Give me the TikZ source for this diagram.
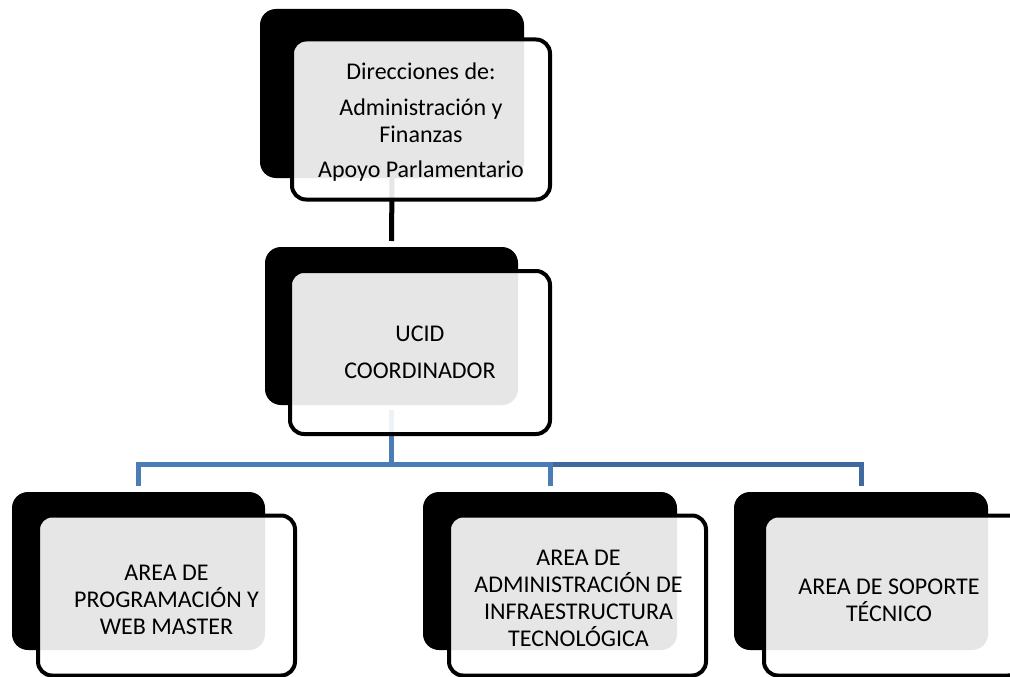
\documentclass[tikz,border=0pt]{standalone}
\usepackage{fontspec}
\setmainfont{Carlito}
\definecolor{bluelight}{HTML}{4A7CB8}
\definecolor{bluedark}{HTML}{3F6A9E}
\tikzset{
  backbox/.style={fill=black, draw=none, rounded corners=16pt, inner sep=0pt, outer sep=0pt},
  frontbox/.style={draw=black, line width=4pt, fill=white, fill opacity=0.9, rounded corners=14pt, inner sep=0pt, outer sep=0pt},
  txt/.style={align=center, font=\fontsize{24}{27}\selectfont, inner sep=0pt, text=black},
  blackconn/.style={draw=black, line width=5pt, shorten >=6pt},
  lightconn/.style={draw=bluelight, line width=5pt, shorten <=5pt, shorten >=6pt},
  darkconn/.style={draw=bluedark, line width=5pt, shorten <=5pt, shorten >=6pt}
}
\begin{document}
\begin{tikzpicture}[x=1pt,y=-1pt]
\useasboundingbox (0,0) rectangle (1010,677);
\clip (0,0) rectangle (1010,677);
\fill[white] (0,0) rectangle (1010,677);
% back boxes
\node[backbox, minimum width=264pt, minimum height=169pt] (topb) at (392,93.5) {};
\node[backbox, minimum width=253pt, minimum height=158pt] (ucidb) at (391.5,326) {};
\node[backbox, minimum width=253pt, minimum height=158pt] (c1b) at (138.5,571) {};
\node[backbox, minimum width=254pt, minimum height=158pt] (c2b) at (550,571) {};
\node[backbox, minimum width=254pt, minimum height=158pt] (c3b) at (861,571) {};
% connectors
\coordinate (bus) at (391.5,464);
\draw[blackconn] (topb.south) -- (ucidb.north);
\draw[darkconn] (ucidb.south) -- (bus) -| (c3b.north);
\draw[lightconn] (ucidb.south) -- (bus) -| (c1b.north);
\draw[lightconn] (ucidb.south) -- (bus) -| (c2b.north);
% front boxes
\node[frontbox, minimum width=258pt, minimum height=160pt] (topf) at (421,119.5) {};
\node[frontbox, minimum width=260pt, minimum height=163pt] (ucidf) at (420,352.5) {};
\node[frontbox, minimum width=257pt, minimum height=160pt] (c1f) at (166.5,595.5) {};
\node[frontbox, minimum width=257pt, minimum height=160pt] (c2f) at (577.5,595.5) {};
\node[frontbox, minimum width=258pt, minimum height=160pt] (c3f) at (893,595.5) {};
% texts
\node[txt] (topt) at (421,122.5) {Direcciones de:\\[9pt]Administración y\\Finanzas\\[8pt]Apoyo Parlamentario};
\node[txt] (ucidt) at (420,352) {UCID\\[10pt]COORDINADOR};
\node[txt] (c1t) at (166.5,599.5) {AREA DE\\PROGRAMACIÓN Y\\WEB MASTER};
\node[txt] (c2t) at (578.5,598.5) {AREA DE\\ADMINISTRACIÓN DE\\INFRAESTRUCTURA\\TECNOLÓGICA};
\node[txt] (c3t) at (889,600) {AREA DE SOPORTE\\TÉCNICO};
\end{tikzpicture}
\end{document}
